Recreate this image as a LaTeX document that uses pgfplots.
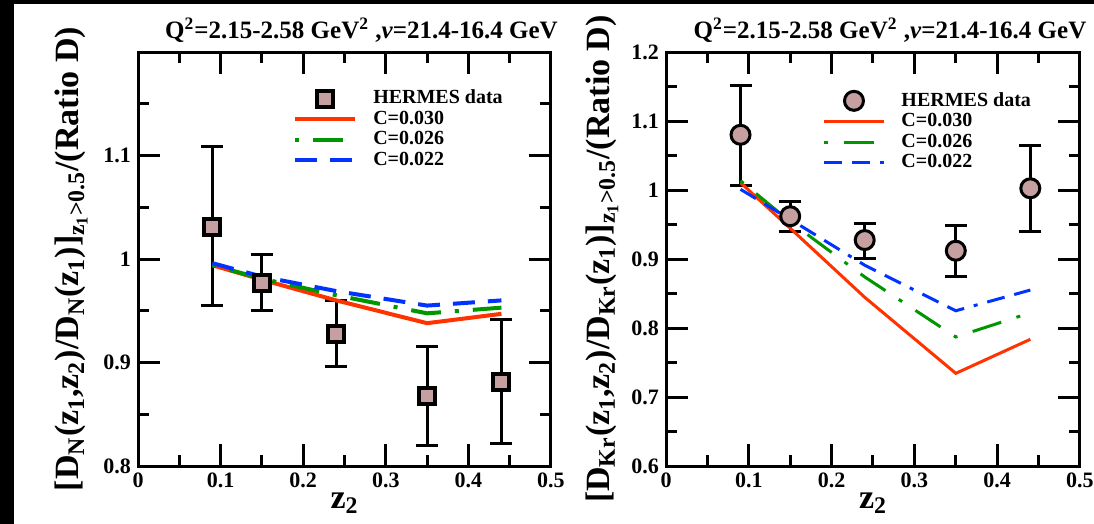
\documentclass[border=0pt]{standalone}
\usepackage{fontspec}
\setmainfont{Liberation Serif}
\usepackage{pgfplots}
\usepackage{pgfplotstable}
\pgfplotsset{compat=1.18}

\definecolor{mred}{RGB}{255,51,0}
\definecolor{mgreen}{RGB}{0,150,0}
\definecolor{mblue}{RGB}{0,51,255}
\definecolor{mfill}{RGB}{198,160,160}

% left panel (N)
\pgfplotstableread{
x y ep em
0.09 1.031 0.0775 0.076
0.15 0.977 0.027 0.027
0.24 0.928 0.032 0.032
0.35 0.868 0.047 0.048
0.44 0.881 0.061 0.059
}\dataN
\pgfplotstableread{
x c030 c026 c022
0.09 0.994 0.994 0.996
0.15 0.980 0.981 0.983
0.24 0.960 0.965 0.969
0.35 0.938 0.9475 0.955
0.44 0.947 0.953 0.960
}\theoN
% right panel (Kr)
\pgfplotstableread{
x y ep em
0.09 1.080 0.072 0.073
0.15 0.962 0.021 0.022
0.24 0.9275 0.0245 0.0265
0.35 0.912 0.036 0.038
0.44 1.0025 0.0625 0.0625
}\dataKr
\pgfplotstableread{
x c030 c026 c022
0.09 1.0106 1.0135 1.001
0.15 0.9446 0.954 0.9575
0.24 0.8445 0.874 0.891
0.35 0.7343 0.787 0.825
0.44 0.7836 0.822 0.855
}\theoKr

\pgfplotsset{
  myaxis/.style={
    scale only axis, width=206.5pt, height=207pt,
    xmin=0, xmax=0.5,
    xtick={0,0.1,0.2,0.3,0.4,0.5},
    minor xtick={0.05,0.15,0.25,0.35,0.45},
    tick align=inside, major tick length=11pt, minor tick length=5.5pt,
    tick style={black},
    major tick style={line width=1.5pt},
    minor tick style={line width=1.5pt},
    axis line style={line width=1.5pt},
    /pgf/number format/assume math mode=true,
    tick label style={font=\fontsize{11}{12}\selectfont\bfseries},
    every axis title shift=0pt,
    title style={at={(0.5,1)}, anchor=base, yshift=7pt, xshift=8.5pt,
      font=\fontsize{12.5}{14}\selectfont\bfseries},
    xlabel style={at={(0.5,0)}, anchor=base, yshift=-21pt,
      font=\fontsize{17}{19}\selectfont\bfseries},
    legend style={draw=none, fill=none, anchor=north west,
      font=\fontsize{10}{12}\selectfont\bfseries,
      nodes={inner sep=0pt, text height=7.25pt, text depth=2pt},
      row sep=1pt, column sep=8pt, inner sep=0pt, cells={anchor=west}},
    legend image code/.code={\draw[##1] (0pt,0pt) -- (30pt,0pt);},
    clip=false,
  },
  markleg/.style={legend image code/.code={\draw[##1] plot coordinates {(15pt,0pt)};}},
  databar/.style={
    only marks, black, line width=1.5pt,
    error bars/y dir=both, error bars/y explicit,
    error bars/error bar style={line width=1.5pt, black},
    error bars/error mark options={mark size=5.5pt, line width=1.5pt, black, rotate=90},
  },
}

\begin{document}
\begin{tikzpicture}
\useasboundingbox (0,0) rectangle (547pt,-262pt);
\fill[black] (0,0) rectangle (547pt,-262pt);
\fill[white] (7pt,-2pt) rectangle (547pt,-262pt);

% ---------------- left panel ----------------
\begin{axis}[myaxis,
  at={(69pt,-233pt)}, anchor=south west,
  ymin=0.8, ymax=1.2,
  ytick={0.8,0.9,1,1.1},
  minor ytick={0.85,0.95,1.05,1.15},
  title={Q\textsuperscript{2}=2.15-2.58 GeV\textsuperscript{2} ,\textit{ν}=21.4-16.4 GeV},
  xlabel={z\textsubscript{2}},
  ylabel={[D\textsubscript{N}(z\textsubscript{1},z\textsubscript{2})/D\textsubscript{N}(z\textsubscript{1})]\textsubscript{z\textsubscript{1}>0.5}/(Ratio D)},
  ylabel style={at={(axis description cs:-0.143,0.5)}, anchor=base, rotate=0,
    font=\fontsize{17}{19}\selectfont\bfseries},
  legend style={at={(0.375,0.911)}},
]
\addplot[databar, markleg, mark=square*, mark options={fill=mfill, draw=black, line width=2pt, mark size=4pt}]
  table[x=x, y=y, y error plus=ep, y error minus=em] {\dataN};
\addlegendentry{HERMES data}
\addplot[mred, line width=2pt, no marks] table[x=x, y=c030] {\theoN};
\addlegendentry{C=0.030}
\addplot[mgreen, line width=2pt, no marks, dash pattern={on 2pt off 7pt on 15pt off 7pt}] table[x=x, y=c026] {\theoN};
\addlegendentry{C=0.026}
\addplot[mblue, line width=2pt, no marks, dash pattern={on 11pt off 6.5pt}] table[x=x, y=c022] {\theoN};
\addlegendentry{C=0.022}
\end{axis}

% ---------------- right panel ----------------
\begin{axis}[myaxis,
  at={(333pt,-233pt)}, anchor=south west,
  width=207pt,
  ymin=0.6, ymax=1.2,
  ytick={0.6,0.7,0.8,0.9,1,1.1,1.2},
  minor ytick={0.65,0.75,0.85,0.95,1.05,1.15},
  title={Q\textsuperscript{2}=2.15-2.58 GeV\textsuperscript{2} ,\textit{ν}=21.4-16.4 GeV},
  xlabel={z\textsubscript{2}},
  ylabel={[D\textsubscript{Kr}(z\textsubscript{1},z\textsubscript{2})/D\textsubscript{Kr}(z\textsubscript{1})]\textsubscript{z\textsubscript{1}>0.5}/(Ratio D)},
  ylabel style={at={(axis description cs:-0.136,0.5)}, anchor=base, rotate=0,
    font=\fontsize{17}{19}\selectfont\bfseries},
  legend style={at={(0.377,0.906)}},
]
\addplot[databar, markleg, mark=*, mark options={fill=mfill, draw=black, line width=1.5pt, mark size=4.75pt}]
  table[x=x, y=y, y error plus=ep, y error minus=em] {\dataKr};
\addlegendentry{HERMES data}
\addplot[mred, line width=1.5pt, no marks] table[x=x, y=c030] {\theoKr};
\addlegendentry{C=0.030}
\addplot[mgreen, line width=1.5pt, no marks, dash pattern={on 2pt off 8pt on 15pt off 8pt}] table[x=x, y=c026] {\theoKr};
\addlegendentry{C=0.026}
\addplot[mblue, line width=1.5pt, no marks, dash pattern={on 9pt off 5pt on 9pt off 5pt on 2pt off 5pt}] table[x=x, y=c022] {\theoKr};
\addlegendentry{C=0.022}
\end{axis}
\end{tikzpicture}
\end{document}
